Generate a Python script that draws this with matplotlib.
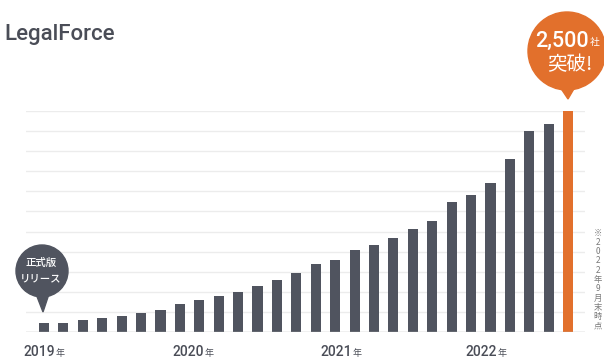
import numpy as np
import matplotlib
matplotlib.use('Agg')
import matplotlib.pyplot as plt
from matplotlib.patches import Circle, Polygon

plt.rcParams['font.family'] = ['Noto Sans CJK JP', 'DejaVu Sans']

# cumulative number of client companies
counts = [100, 105, 135, 160, 180, 215, 250, 315, 370, 405, 450, 520, 595, 665,
          765, 820, 925, 990, 1060, 1160, 1260, 1465, 1545, 1680, 1950, 2275, 2345, 2500]
years = ['2019', '2020', '2021', '2022']
year_x = [0.57, 8.24, 15.87, 23.34]   # bar index where "年" starts
note = '※2022年9月末時点'

gray = '#50545f'
orange = '#e2702c'
text_gray = '#4a4d57'

fig = plt.figure(figsize=(6.04, 3.6), dpi=100)

# bar area: baseline at y=332px, 2,500 line at y=111px
ax = fig.add_axes([26 / 604, (360 - 332.3) / 360, 559 / 604, 221.6 / 360])
x = np.arange(len(counts))
colors = [gray] * (len(counts) - 1) + [orange]
ax.bar(x, counts, width=0.52, color=colors, zorder=3)
ax.set_xlim(-0.927, 27.87)
ax.set_ylim(0, 2500)
for g in np.linspace(0, 2500, 12)[1:]:
    ax.axhline(g, color='#ececec', lw=1, zorder=1)
ax.axhline(0, color='#b5b5b5', lw=1, zorder=4)
for s in ax.spines.values():
    s.set_visible(False)
ax.set_xticks([])
ax.set_yticks([])
ax.patch.set_alpha(0)

for yr, xp in zip(years, year_x):
    ax.annotate(yr, xy=(xp, 0), xycoords=('data', 'axes fraction'), xytext=(0, -14.5),
                textcoords='offset points', ha='right', va='center', fontsize=10,
                family='Roboto', fontweight='medium', color=text_gray)
    ax.annotate('年', xy=(xp, 0), xycoords=('data', 'axes fraction'), xytext=(0.5, -15.5),
                textcoords='offset points', ha='left', va='center', fontsize=6.5,
                color=text_gray)

# overlay in pixel coordinates for logo, callouts and note
ov = fig.add_axes([0, 0, 1, 1], zorder=5)
ov.set_xlim(0, 604)
ov.set_ylim(360, 0)
ov.axis('off')

ov.text(4, 40, 'LegalForce', family='Roboto', fontweight='medium', fontsize=16,
        color=text_gray, ha='left', va='baseline')

# release callout
ov.add_patch(Circle((42, 271), 26, color=gray, zorder=2))
ov.add_patch(Polygon([[36, 294], [49, 294], [43, 312]], closed=True, color=gray, zorder=2))
ov.text(41, 263, '正式版', color='white', fontsize=7.5, fontweight='medium',
        ha='center', va='center', zorder=3)
ov.text(41, 278, 'リリース', color='white', fontsize=7.5, fontweight='medium',
        ha='center', va='center', zorder=3)

# 2,500 callout
ov.add_patch(Circle((567, 51), 39, color=orange, zorder=2))
ov.add_patch(Polygon([[560, 87], [575, 87], [568, 99]], closed=True, color=orange, zorder=2))
ov.text(589, 41, '2,500', color='white', fontsize=15.5, family='Roboto',
        fontweight='medium', ha='right', va='center', zorder=3)
ov.text(590, 42, '社', color='white', fontsize=7, ha='left', va='center', zorder=3)
ov.text(570, 65, '突破!', color='white', fontsize=14, ha='center', va='center', zorder=3)

# vertical footnote
for k, ch in enumerate(note):
    ov.text(598, 233 + 9.3 * k, ch, color='#7a7a7a', fontsize=6, ha='center', va='center')

fig.savefig('out.png', dpi=100)
